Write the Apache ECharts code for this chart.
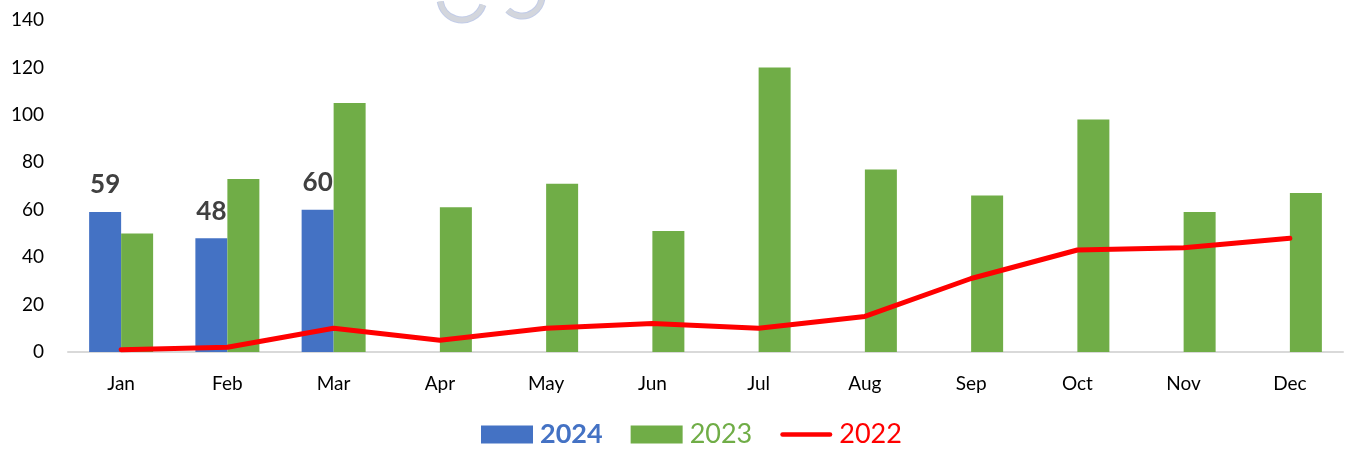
<!DOCTYPE html>
<html>
  <head>
    <meta charset="utf-8">
    <title>Monthly comparison</title>
    <script src="https://cdn.jsdelivr.net/npm/echarts@6/dist/echarts.min.js"></script>
    <style>
      html, body { margin: 0; padding: 0; background: #fff; }
      #chart { width: 1345px; height: 455px; }
    </style>
  </head>
  <body>
    <div id="chart"></div>
    <script type="text/javascript">
      var months = ['Jan', 'Feb', 'Mar', 'Apr', 'May', 'Jun', 'Jul', 'Aug', 'Sep', 'Oct', 'Nov', 'Dec'];
      var sales2024 = [59, 48, 60, null, null, null, null, null, null, null, null, null];
      var sales2023 = [50, 73, 105, 61, 71, 51, 120, 77, 66, 98, 59, 67];
      var sales2022 = [1, 2, 10, 5, 10, 12, 10, 15, 31, 43, 44, 48];
      var yTicks = [0, 20, 40, 60, 80, 100, 120, 140];

      var chart = echarts.init(document.getElementById('chart'));
      var font = 'Lato, "Open Sans", sans-serif';

      chart.setOption({
        backgroundColor: '#ffffff',
        animation: false,
        textStyle: { fontFamily: font },
        grid: { left: 68, right: 2, top: 20, bottom: 103, containLabel: false },
        graphic: [
          // faint logo watermark peeking in at the top
          {
            type: 'arc', silent: true, z: 0,
            shape: { cx: 462, cy: -2, r: 22, startAngle: Math.PI * 0.1, endAngle: Math.PI * 0.95 },
            style: { stroke: '#8fa3d6', lineWidth: 7, fill: null, opacity: 0.55 }
          },
          {
            type: 'arc', silent: true, z: 0,
            shape: { cx: 462, cy: -2, r: 22, startAngle: Math.PI * 0.1, endAngle: Math.PI * 0.95 },
            style: { stroke: '#d3d6dd', lineWidth: 5, fill: null }
          },
          {
            type: 'arc', silent: true, z: 0,
            shape: { cx: 522, cy: -4, r: 20, startAngle: Math.PI * 0.05, endAngle: Math.PI * 0.75 },
            style: { stroke: '#8fa3d6', lineWidth: 7, fill: null, opacity: 0.55 }
          },
          {
            type: 'arc', silent: true, z: 0,
            shape: { cx: 522, cy: -4, r: 20, startAngle: Math.PI * 0.05, endAngle: Math.PI * 0.75 },
            style: { stroke: '#d3d6dd', lineWidth: 5, fill: null }
          }
        ],
        legend: {
          bottom: 2,
          left: 476,
          itemGap: 28,
          itemWidth: 52,
          itemHeight: 18,
          data: [
            { name: '2024', icon: 'rect', textStyle: { color: '#4472c4', fontWeight: 'bold' } },
            { name: '2023', icon: 'rect', textStyle: { color: '#70ad47' } },
            { name: '2022', icon: 'path://M2,0L54,0A2.5,2.5,0,0,1,54,5L2,5A2.5,2.5,0,0,1,2,0Z', textStyle: { color: '#ff0000' } }
          ],
          textStyle: { fontSize: 27, fontFamily: font, padding: [0, 0, 0, 2] }
        },
        xAxis: {
          type: 'category',
          data: months,
          axisLine: { lineStyle: { color: '#d9d9d9', width: 2 } },
          axisTick: { show: false },
          axisLabel: { color: '#000', fontSize: 19, margin: 22, fontFamily: font }
        },
        yAxis: {
          type: 'value',
          min: 0,
          max: yTicks[yTicks.length - 1],
          interval: 20,
          axisLine: { show: false },
          axisTick: { show: false },
          splitLine: { show: false },
          axisLabel: { color: '#000', fontSize: 19, margin: 24, fontFamily: font }
        },
        series: [
          {
            name: '2024',
            type: 'bar',
            data: sales2024,
            barWidth: 32,
            barGap: '0%',
            itemStyle: { color: '#4472c4' },
            label: {
              show: true,
              position: 'top',
              distance: 14,
              color: '#404040',
              fontSize: 26,
              fontWeight: 'bold',
              fontFamily: font
            }
          },
          {
            name: '2023',
            type: 'bar',
            data: sales2023,
            barWidth: 32,
            barGap: '0%',
            itemStyle: { color: '#70ad47' }
          },
          {
            name: '2022',
            type: 'line',
            data: sales2022,
            symbol: 'none',
            lineStyle: { color: '#ff0000', width: 5, cap: 'round', join: 'round' },
            itemStyle: { color: '#ff0000' },
            z: 5
          }
        ]
      });
    </script>
  </body>
</html>
